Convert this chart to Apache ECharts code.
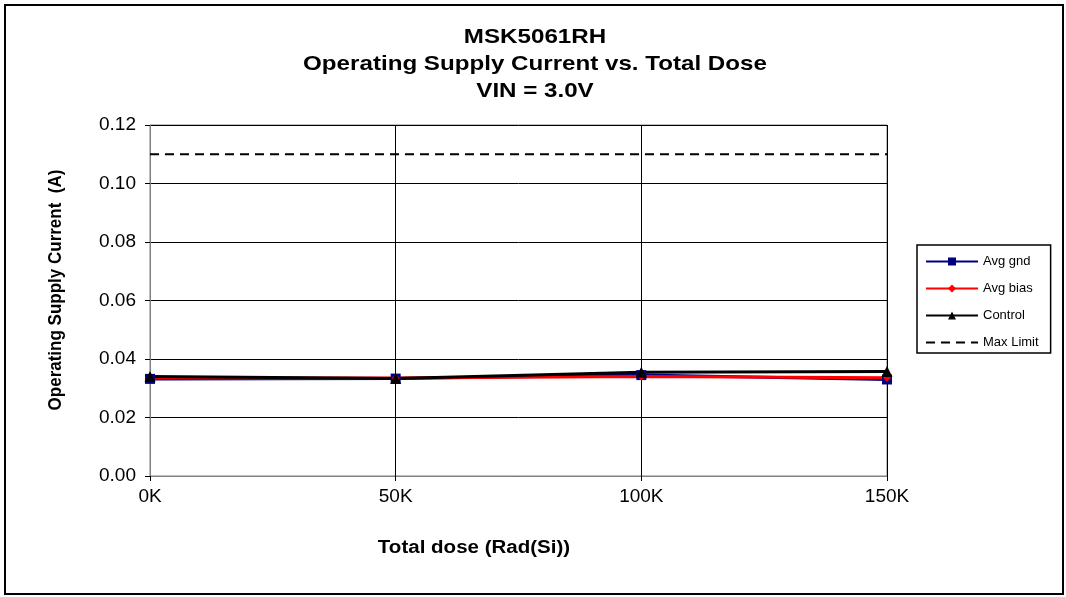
<!DOCTYPE html>
<html>
<head>
<meta charset="utf-8">
<script src="https://cdn.jsdelivr.net/npm/echarts@6/dist/echarts.min.js"></script>
<style>
  html, body { margin: 0; padding: 0; background: #fff; }
  #chart { width: 1066px; height: 597px; }
</style>
</head>
<body>
<div id="chart"></div>
<script>
const doses = [0, 50000, 100000, 150000]
const avgGnd = [0.0332, 0.0333, 0.0345, 0.0330]
const avgBias = [0.0335, 0.0335, 0.0340, 0.0336]
const control = [0.0340, 0.0333, 0.0355, 0.0357]
const maxLimit = [0.11, 0.11, 0.11, 0.11]

const pairs = arr => doses.map((d, i) => [d, arr[i]])

const chart = echarts.init(document.getElementById('chart'))
const font = 'Arial, "Liberation Sans", sans-serif'

chart.setOption({
  backgroundColor: '#fff',
  animation: false,
  grid: { left: 150, top: 125, width: 737, height: 351, show: true, borderColor: '#808080', borderWidth: 1 },
  legend: {
    orient: 'vertical',
    left: 917,
    top: 245,
    width: 138,
    padding: [10, 12, 4, 8],
    itemGap: 14,
    itemWidth: 52,
    itemHeight: 10,
    borderColor: '#000',
    borderWidth: 1.5,
    textStyle: { fontFamily: font, fontSize: 13, color: '#000' },
    data: ['Avg gnd', 'Avg bias', 'Control', { name: 'Max Limit', itemStyle: { opacity: 0 } }]
  },
  xAxis: {
    type: 'value',
    min: 0,
    max: 150000,
    interval: 50000,
    axisLine: { lineStyle: { color: '#808080' } },
    axisTick: { show: true, length: 5, lineStyle: { color: '#000' } },
    axisLabel: { fontFamily: font, fontSize: 19, color: '#000', margin: 11, formatter: v => (v / 1000) + 'K' },
    splitLine: { show: true, lineStyle: { color: '#000', width: 1 } }
  },
  yAxis: {
    type: 'value',
    min: 0,
    max: 0.12,
    interval: 0.02,
    axisLine: { show: true, lineStyle: { color: '#808080' } },
    axisTick: { show: true, length: 5, lineStyle: { color: '#000' } },
    axisLabel: { fontFamily: font, fontSize: 19, color: '#000', margin: 14, formatter: v => v.toFixed(2) },
    splitLine: { show: true, lineStyle: { color: '#000', width: 1 } }
  },
  graphic: [
    { type: 'rect', shape: { x: 5, y: 5, width: 1058, height: 589 }, style: { fill: 'none', stroke: '#000', lineWidth: 2 }, silent: true },
    {
      type: 'text', x: 535, y: 24, scaleX: 1.15,
      style: {
        text: 'MSK5061RH\nOperating Supply Current vs. Total Dose\nVIN = 3.0V',
        font: 'bold 21px ' + font, lineHeight: 27, fill: '#000', align: 'center', verticalAlign: 'top'
      }
    },
    { type: 'text', x: 474, y: 548, scaleX: 1.14, style: { text: 'Total dose (Rad(Si))', font: 'bold 18px ' + font, fill: '#000', align: 'center', verticalAlign: 'middle' } },
    { type: 'text', x: 56, y: 290, rotation: Math.PI / 2, scaleY: 1.12, style: { text: 'Operating Supply Current  (A)', font: 'bold 17px ' + font, fill: '#000', align: 'center', verticalAlign: 'middle' } }
  ],
  series: [
    {
      name: 'Avg gnd', type: 'line', data: pairs(avgGnd),
      symbol: 'rect', symbolSize: 10,
      lineStyle: { color: '#000080', width: 3 },
      itemStyle: { color: '#000080' }
    },
    {
      name: 'Avg bias', type: 'line', data: pairs(avgBias),
      symbol: 'diamond', symbolSize: 8,
      lineStyle: { color: '#ff0000', width: 3 },
      itemStyle: { color: '#ff0000' }
    },
    {
      name: 'Control', type: 'line', data: pairs(control),
      symbol: 'triangle', symbolSize: 11,
      lineStyle: { color: '#000', width: 3 },
      itemStyle: { color: '#000' }
    },
    {
      name: 'Max Limit', type: 'line', data: pairs(maxLimit),
      symbol: 'none',
      lineStyle: { color: '#000', width: 2, type: [9, 6] },
      itemStyle: { color: '#000' }
    }
  ]
})
</script>
</body>
</html>
